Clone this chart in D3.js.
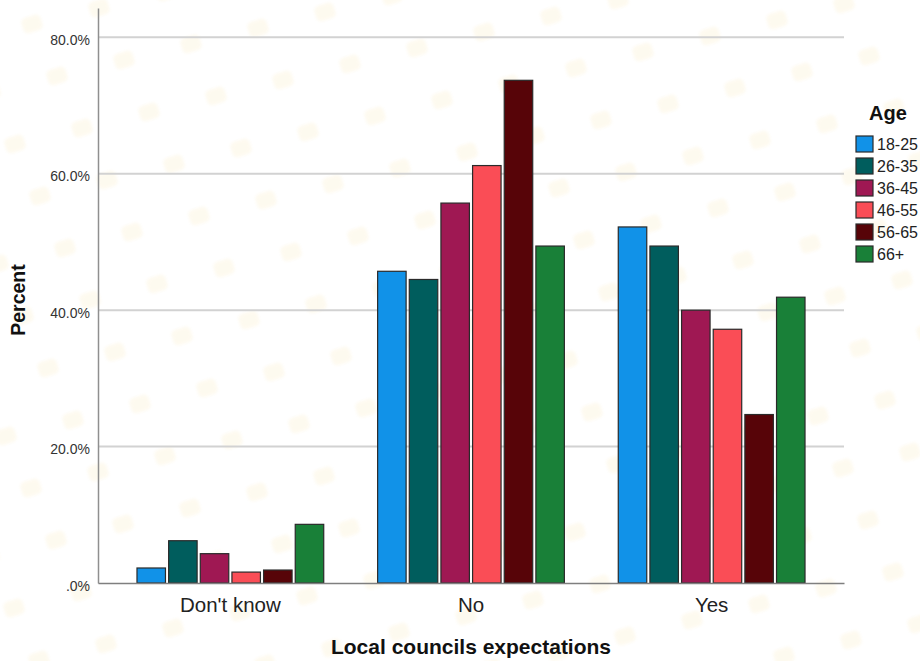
<!DOCTYPE html>
<html>
<head>
<meta charset="utf-8">
<script src="https://cdn.jsdelivr.net/npm/d3@7"></script>
<style>
  html, body { margin: 0; padding: 0; background: #fff; }
  svg { display: block; font-family: "Liberation Sans", Arial, sans-serif; }
</style>
</head>
<body>
<svg id="chart" width="920" height="661"></svg>
<script>
// Categories (x axis) and age groups (series)
const categories = ["Don't know", "No", "Yes"];
const ageGroups = ["18-25", "26-35", "36-45", "46-55", "56-65", "66+"];
const ageColors = ["#1192e8", "#005d5d", "#9f1853", "#fa4d56", "#570408", "#198038"];

// Percent of each age group per answer
const pct1825 = [2.2, 45.7, 52.2];
const pct2635 = [6.2, 44.5, 49.4];
const pct3645 = [4.3, 55.7, 40.0];
const pct4655 = [1.6, 61.2, 37.2];
const pct5665 = [1.9, 73.7, 24.7];
const pct66up = [8.6, 49.4, 41.9];
const seriesValues = [pct1825, pct2635, pct3645, pct4655, pct5665, pct66up];

const yTicks = [0, 20, 40, 60, 80];

const svg = d3.select("#chart");

// faint background texture of soft rounded marks
svg.append("defs").append("filter").attr("id", "soft")
  .append("feGaussianBlur").attr("stdDeviation", 1.6);
const tex = svg.append("g").attr("class", "texture");
for (let i = -12; i <= 20; i++) {
  for (let j = -4; j <= 16; j++) {
    const cx = 32 + i * 67 + j * 25;
    const cy = 24 - i * 16 + j * 52;
    if (cx < -20 || cx > 940 || cy < -20 || cy > 680) continue;
    tex.append("rect")
      .attr("x", cx - 10).attr("y", cy - 8)
      .attr("width", 20).attr("height", 16).attr("rx", 5)
      .attr("transform", `rotate(-18,${cx},${cy})`)
      .attr("fill", "#fbeec8").attr("opacity", 0.28)
      .attr("filter", "url(#soft)");
  }
}

const plotLeft = 98, plotRight = 844, plotBottom = 583, plotTop = 8;

const y = d3.scaleLinear().domain([0, 84.3]).range([plotBottom, plotTop]);
const x0 = d3.scaleBand().domain(categories).range([plotLeft, plotRight])
  .paddingInner(0.224).paddingOuter(0.162);
const x1 = d3.scaleBand().domain(ageGroups).range([0, x0.bandwidth()])
  .paddingInner(0.1).paddingOuter(0);
const color = d3.scaleOrdinal().domain(ageGroups).range(ageColors);

// gridlines
svg.append("g").selectAll("line")
  .data(yTicks.filter(d => d > 0))
  .join("line")
  .attr("x1", plotLeft).attr("x2", plotRight)
  .attr("y1", d => y(d)).attr("y2", d => y(d))
  .attr("stroke", "#d2d2d2").attr("stroke-width", 2);

// bars
const rows = [];
categories.forEach((c, ci) => {
  ageGroups.forEach((a, ai) => rows.push({ cat: c, age: a, value: seriesValues[ai][ci] }));
});
svg.append("g").selectAll("rect")
  .data(rows)
  .join("rect")
  .attr("x", d => x0(d.cat) + x1(d.age))
  .attr("y", d => y(d.value))
  .attr("width", x1.bandwidth())
  .attr("height", d => y(0) - y(d.value))
  .attr("fill", d => color(d.age))
  .attr("stroke", "#2a2a2a").attr("stroke-width", 1.2);

// y axis
const yAxis = d3.axisLeft(y).tickValues(yTicks).tickSize(0).tickPadding(8)
  .tickFormat(d => d === 0 ? ".0%" : d.toFixed(1) + "%");
const gy = svg.append("g").attr("transform", `translate(${plotLeft},0)`).call(yAxis);
gy.select(".domain").attr("stroke", "#8f8f8f").attr("stroke-width", 1.5);
gy.selectAll("text").attr("font-size", 14).attr("fill", "#333").attr("dy", "0.5em")
  .attr("font-family", "Liberation Sans, Arial, sans-serif");

// x axis
const xAxis = d3.axisBottom(x0).tickSize(0).tickSizeOuter(0).tickPadding(14);
const gx = svg.append("g").attr("transform", `translate(0,${plotBottom})`).call(xAxis);
gx.select(".domain").attr("stroke", "#7f7f7f").attr("stroke-width", 1.5);
gx.selectAll("text").attr("font-size", 20.5).attr("fill", "#222")
  .attr("font-family", "Liberation Sans, Arial, sans-serif");

// axis titles
svg.append("text")
  .attr("x", 471).attr("y", 654)
  .attr("text-anchor", "middle")
  .attr("font-size", 21).attr("font-weight", "bold").attr("fill", "#111")
  .text("Local councils expectations");

svg.append("text")
  .attr("transform", "translate(25,300) rotate(-90)")
  .attr("text-anchor", "middle")
  .attr("font-size", 19.5).attr("font-weight", "bold").attr("fill", "#111")
  .text("Percent");

// legend
const legend = svg.append("g").attr("transform", "translate(856,0)");
legend.append("text")
  .attr("x", 13).attr("y", 120)
  .attr("font-size", 20).attr("font-weight", "bold").attr("fill", "#111")
  .text("Age");
const items = legend.selectAll("g.item")
  .data(ageGroups)
  .join("g").attr("class", "item")
  .attr("transform", (d, i) => `translate(0,${136 + i * 22})`);
items.append("rect")
  .attr("width", 17).attr("height", 16)
  .attr("fill", d => color(d))
  .attr("stroke", "#2a2a2a").attr("stroke-width", 1.2);
items.append("text")
  .attr("x", 21).attr("y", 14)
  .attr("font-size", 16).attr("fill", "#222")
  .text(d => d);
</script>
</body>
</html>
